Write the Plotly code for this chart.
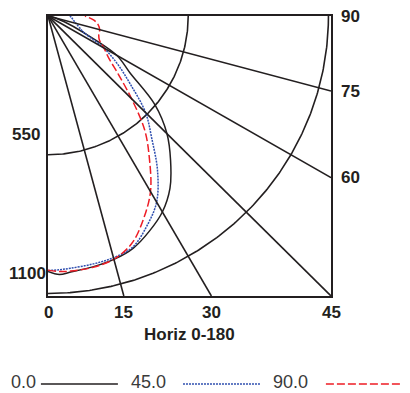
import numpy as np
import plotly.graph_objects as go

# vertical angles (deg from nadir) and candela for each horizontal plane
angles = [0, 2.5, 5, 10, 15, 20, 25, 30, 35, 40, 45, 50, 55, 60, 65, 70, 75, 80, 85, 90]
cd_0 = [1013, 1026, 1019, 1010, 999, 979, 941, 897, 834, 748, 660, 548, 392, 311, 150, 70, 30, 12, 4, 0]
cd_45 = [1009, 1007, 1004, 999, 992, 974, 918, 852, 749, 633, 541, 423, 334, 251, 155, 130, 114, 102, 94, 86]
cd_90 = [1008, 1014, 1015, 1012, 998, 960, 887, 804, 694, 590, 463, 361, 291, 253, 222, 212, 210, 200, 179, 145]

planes = ["0.0", "45.0", "90.0"]
grid_angles = [15, 30, 45, 60, 75]
bottom_labels = ["0", "15", "30", "45"]
right_labels = ["90", "75", "60"]
rings = [550, 1100]

R = 1110
BOLD = dict(family="Liberation Sans, Arial", size=17, color="#231f20", weight=700)


def to_xy(ang, cd):
    t = np.radians(ang)
    return np.array(cd) * np.sin(t), np.array(cd) * np.cos(t)


fig = go.Figure()

# rings
for r in rings:
    t = np.linspace(0, 90, 181)
    x, y = to_xy(t, np.full_like(t, r))
    fig.add_trace(go.Scatter(x=x, y=y, mode="lines", line=dict(color="#231f20", width=1.6),
                             hoverinfo="skip", showlegend=False))

# radial lines to the frame
for a in grid_angles:
    t = np.radians(a)
    if a <= 45:
        x1, y1 = R * np.tan(t), R
    else:
        x1, y1 = R, R / np.tan(t)
    fig.add_shape(type="line", x0=0, y0=0, x1=x1, y1=y1, line=dict(color="#231f20", width=1.6))

styles = [
    dict(color="#231f20", width=1.5),
    dict(color="#3050b0", width=1.5, dash="2px,1px"),
    dict(color="#ee1c25", width=1.5, dash="8px,3px"),
]
for name, cd, st in zip(planes, [cd_0, cd_45, cd_90], styles):
    x, y = to_xy(angles, cd)
    fig.add_trace(go.Scatter(x=x, y=y, mode="lines", name=name, line=dict(shape="spline", **st),
                             showlegend=False))

# tick labels
for lab in bottom_labels:
    fig.add_annotation(x=R * np.tan(np.radians(float(lab))), y=-0.06, xref="x", yref="paper",
                       text=lab, showarrow=False, font=BOLD, xanchor="center", yanchor="middle")
for lab in right_labels:
    a = np.radians(float(lab))
    yv = 0 if lab == "90" else R / np.tan(a)
    fig.add_annotation(x=1.03, y=yv, xref="paper", yref="y", text=lab, showarrow=False,
                       font=BOLD, xanchor="left", yanchor="middle")
fig.add_annotation(x=-0.02, y=0.578, xref="paper", yref="paper", text="550", showarrow=False,
                   font=BOLD, xanchor="right", yanchor="middle")
fig.add_annotation(x=-0.1396, y=0.082, xref="paper", yref="paper", text="1100", showarrow=False,
                   font=BOLD, xanchor="left", yanchor="middle", borderpad=0)
fig.add_annotation(x=0.50, y=-0.138, xref="paper", yref="paper", text="Horiz 0-180", showarrow=False,
                   font=BOLD, xanchor="center", yanchor="middle")

# legend drawn by hand: text then line sample
leg_y = -0.308
leg_text = [(-0.138, "left"), (0.424, "right"), (0.926, "right")]
leg_line_x = [(-0.025, 0.247), (0.477, 0.749), (0.982, 1.30)]
for name, (tx, anc), (l0, l1), st in zip(planes, leg_text, leg_line_x, styles):
    fig.add_annotation(x=tx, y=leg_y, xref="paper", yref="paper", text=name, showarrow=False,
                       font=dict(family="Liberation Sans, Arial", size=18, color="#3a3a3a"),
                       xanchor=anc, yanchor="middle")
    fig.add_shape(type="line", xref="paper", yref="paper", x0=l0, x1=l1, y0=leg_y - 0.006,
                  y1=leg_y - 0.006, line=st)

fig.update_xaxes(range=[0, R], showgrid=False, zeroline=False, showticklabels=False, ticks="",
                 showline=True, mirror=True, linecolor="#231f20", linewidth=2)
fig.update_yaxes(range=[R, 0], showgrid=False, zeroline=False, showticklabels=False, ticks="",
                 showline=True, mirror=True, linecolor="#231f20", linewidth=2)
fig.update_layout(width=410, height=393, margin=dict(l=40, r=87, t=6, b=105),
                  plot_bgcolor="white", paper_bgcolor="white", showlegend=False)

fig.write_html("out.html")
